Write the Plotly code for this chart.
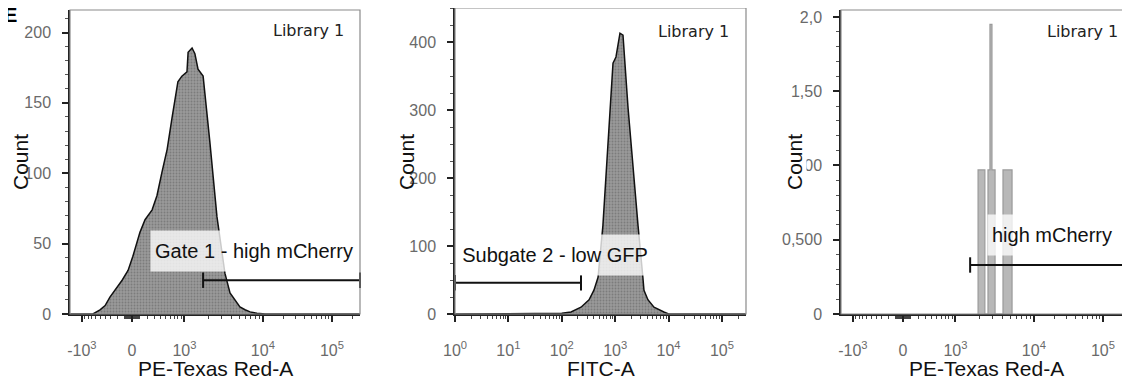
import math
import plotly.graph_objects as go

# ---------------- data ----------------
# Panel 1: PE-Texas Red-A histogram, x in display channels (0-1024) of the biexponential axis
p1_channel = [0, 81, 106, 124, 141, 184, 205, 222, 247, 265, 290, 307, 325, 343, 360, 381, 395,
              413, 417, 431, 441, 452, 470, 484, 494, 519, 547, 565, 600, 618, 636, 660, 689, 1024]
p1_count = [0, 0, 3, 6, 12, 24, 31, 41, 58, 67, 74, 84, 101, 117, 139, 165, 169,
            172, 186, 189, 185, 174, 169, 144, 122, 69, 29, 15, 5, 3, 1.5, 0.5, 0, 0]

# Panel 2: FITC-A histogram (log axis, FITC intensity)
p2_fitc = [1, 50, 100, 149, 229, 324, 400, 478, 589, 910, 1035, 1230, 1400, 1738, 2150, 2680,
           3300, 3460, 4100, 5330, 8170, 10000, 280000]
p2_count = [0, 0, 1, 3, 10, 21, 35, 54, 130, 369, 378, 413, 410, 304, 212, 130,
            54, 35, 21, 10, 3, 0, 0]

# Panel 3: PE-Texas Red-A histogram of the sub-gated cells (bin edges in display channels)
p3_edges = [484, 508, 519, 526, 533, 544, 572, 604]
p3_count = [0.97, 0, 0.97, 1.95, 0.97, 0, 0.97]

# Gates
gate1_x = [470, 1024]
gate1_y = 24
gate2_x = [1, 229]
gate2_y = 46
gate3_x = [456, 1024]
gate3_y = 0.33

gate1_label = "Gate 1 - high mCherry"
gate2_label = "Subgate 2 - low GFP"
gate3_label = "high mCherry"
sample_label = "Library 1"
x_titles = ["PE-Texas Red-A", "FITC-A", "PE-Texas Red-A"]
y_title = "Count"
panel_label = "<b>5E</b>"

# Axis tick labels
bx_ticktext = ["-10<sup>3</sup>", "0", "10<sup>3</sup>", "10<sup>4</sup>", "10<sup>5</sup>"]
bx_tickvalue = [-1000, 0, 1000, 10000, 100000]
log_tickvalue = [1, 10, 100, 1000, 10000, 100000]
log_ticktext = ["10<sup>0</sup>", "10<sup>1</sup>", "10<sup>2</sup>", "10<sup>3</sup>",
                "10<sup>4</sup>", "10<sup>5</sup>"]
y3_tickvalue = [0, 0.5, 1.0, 1.5, 2.0]
y3_ticktext = ["0", "0,500", "1,00", "1,50", "2,0"]


# ---------------- biexponential display scale (value -> channel) ----------------
DECADE_CH = [(3, 404), (4, 681), (5, 925), (6, 1169)]


def to_channel(v):
    if v >= 1000:
        lv = math.log10(v)
        for (a, ca), (b, cb) in zip(DECADE_CH[:-1], DECADE_CH[1:]):
            if lv <= b:
                return ca + (cb - ca) * (lv - a) / (b - a)
        return DECADE_CH[-1][1]
    if v <= -1000:
        return 42 - (math.log10(-v) - 3) * 277
    gap = 185 if v >= 0 else 177
    s = 1 if v >= 0 else -1
    return 219 + s * gap * math.asinh(abs(v) / 400) / math.asinh(2.5)


bx_tickvals = [to_channel(v) for v in bx_tickvalue]
bx_minor_vals = []
for sgn in (1, -1):
    for k in range(1, 10):
        bx_minor_vals.append(to_channel(sgn * k * 10))
        bx_minor_vals.append(to_channel(sgn * k * 100))
for dec in (1000, 10000, 100000):
    for k in range(2, 10):
        if k * dec < 270000:
            bx_minor_vals.append(to_channel(k * dec))
log_minor_vals = [k * 10 ** e for e in range(0, 6) for k in range(2, 10) if k * 10 ** e < 280000]

# ---------------- figure ----------------
W, H = 1130, 390
PAGE_OFF = 8  # default page margin around the plot div


def sx(px):
    return (px - PAGE_OFF) / W


def sy(py):
    return 1 - (py - PAGE_OFF) / H


fig = go.Figure()

HIST_PATTERN = dict(shape=".", bgcolor="#9a9a9a", fgcolor="#5e5e5e", size=3, solidity=0.35)

fig.add_trace(go.Scatter(x=p1_channel, y=p1_count, mode="lines", fill="tozeroy",
                         fillcolor="#8c8c8c", fillpattern=HIST_PATTERN,
                         line=dict(color="#111", width=1.5),
                         xaxis="x", yaxis="y", hoverinfo="skip"))
fig.add_trace(go.Scatter(x=p2_fitc, y=p2_count, mode="lines", fill="tozeroy",
                         fillcolor="#8c8c8c", fillpattern=HIST_PATTERN,
                         line=dict(color="#111", width=1.5),
                         xaxis="x2", yaxis="y2", hoverinfo="skip"))

p3_x, p3_y = [p3_edges[0]], [0]
for i, c in enumerate(p3_count):
    p3_x += [p3_edges[i], p3_edges[i + 1]]
    p3_y += [c, c]
p3_x.append(p3_edges[-1])
p3_y.append(0)
fig.add_trace(go.Scatter(x=p3_x, y=p3_y, mode="lines", fill="tozeroy",
                         fillcolor="#b8b8b8", line=dict(color="#9a9a9a", width=1.2),
                         xaxis="x3", yaxis="y3", hoverinfo="skip"))

for gx, gy, xa, ya in ((gate1_x, gate1_y, "x", "y"), (gate2_x, gate2_y, "x2", "y2"),
                       (gate3_x, gate3_y, "x3", "y3")):
    fig.add_trace(go.Scatter(x=gx, y=[gy, gy], mode="lines+markers", cliponaxis=False,
                             line=dict(color="#111", width=2),
                             marker=dict(symbol="line-ns-open", size=11,
                                         line=dict(color="#111", width=2)),
                             xaxis=xa, yaxis=ya, hoverinfo="skip"))

TICKFONT = dict(family="Arial, Liberation Sans", size=16, color="#6a6a6a")
TITLEFONT = dict(family="Arial, Liberation Sans", size=21, color="#111")


def yaxis(domain, rng, anchor, minor_dtick, **kw):
    d = dict(domain=domain, range=rng, anchor=anchor, showline=True, linecolor="#222",
             linewidth=1.5, ticks="outside", ticklen=6, tickwidth=1.5, tickcolor="#222",
             tickfont=TICKFONT, showgrid=False, zeroline=False, fixedrange=True,
             ticklabelstandoff=8, automargin=False,
             minor=dict(ticks="outside", ticklen=3, tickwidth=1, tickcolor="#555",
                        dtick=minor_dtick, showgrid=False))
    d.update(kw)
    return d


def xaxis(domain, anchor, **kw):
    d = dict(domain=domain, anchor=anchor, showline=True, linecolor="#222", linewidth=1.5,
             ticks="outside", ticklen=6, tickwidth=1.5, tickcolor="#222", tickfont=TICKFONT,
             showgrid=False, zeroline=False, fixedrange=True, ticklabelstandoff=15,
             automargin=False)
    d.update(kw)
    return d


ydom = [sy(314), sy(10)]
ydom2 = [sy(314), sy(8)]
x1dom = [sx(70), sx(360)]
x2dom = [sx(455), sx(746)]
x3dom = [sx(841), sx(1131)]

bx_minor = dict(ticks="outside", ticklen=3, tickwidth=1, tickcolor="#444",
                tickmode="array", tickvals=bx_minor_vals, showgrid=False)

fig.update_layout(
    width=W, height=H, margin=dict(l=0, r=0, t=0, b=0, autoexpand=False),
    paper_bgcolor="white", plot_bgcolor="white", showlegend=False,
    xaxis=xaxis(x1dom, "y", range=[0, 1024], tickmode="array",
                tickvals=bx_tickvals, ticktext=bx_ticktext, minor=bx_minor),
    xaxis2=xaxis(x2dom, "y2", type="log", range=[0, 5.45], tickmode="array",
                 tickvals=log_tickvalue, ticktext=log_ticktext,
                 minor=dict(ticks="outside", ticklen=3, tickwidth=1, tickcolor="#444",
                            tickmode="array", tickvals=log_minor_vals, showgrid=False)),
    xaxis3=xaxis(x3dom, "y3", range=[0, 1024], tickmode="array",
                 tickvals=bx_tickvals, ticktext=bx_ticktext, minor=bx_minor),
    yaxis=yaxis(ydom, [0, 216], "x", 10, dtick=50),
    yaxis2=yaxis(ydom2, [0, 450], "x2", 25, dtick=100),
    yaxis3=yaxis(ydom, [0, 2.047], "x3", 0.1, tickmode="array", tickvals=y3_tickvalue,
                 ticktext=y3_ticktext),
)

# plot frames
for xa, ya in (("x", "y"), ("x2", "y2"), ("x3", "y3")):
    fig.add_shape(type="rect", xref=f"{xa} domain", yref=f"{ya} domain", x0=0, x1=1, y0=0, y1=1,
                  line=dict(color="#8a8a8a", width=1.2), layer="above")

# axis titles
for title, xa in zip(x_titles, ("x", "x2", "x3")):
    fig.add_annotation(text=title, xref=f"{xa} domain", yref="paper", x=0.5, y=sy(368),
                       xanchor="center", yanchor="middle", showarrow=False, font=TITLEFONT)
for px, bg in ((21, "rgba(0,0,0,0)"), (407, "rgba(0,0,0,0)"), (795, "white")):
    fig.add_annotation(text=y_title, xref="paper", yref="paper", x=sx(px), y=sy(162),
                       xanchor="center", yanchor="middle", textangle=-90, showarrow=False,
                       font=TITLEFONT, bgcolor=bg, borderpad=0)

LABELFONT = dict(family="Arial, Liberation Sans", size=20, color="#111")
for text, xa, ya, xd, yd, w in ((gate1_label, "x", "y", 0.634, 0.207, 206),
                                (gate2_label, "x2", "y2", 0.344, 0.193, 190),
                                (gate3_label, "x3", "y3", 0.727, 0.26, 128)):
    fig.add_annotation(text=text, xref=f"{xa} domain", yref=f"{ya} domain", x=xd, y=yd,
                       xanchor="center", yanchor="middle", showarrow=False, font=LABELFONT,
                       bgcolor="rgba(255,255,255,0.78)", width=w, height=40, borderpad=0)

for xa, ya, xd, yd in (("x", "y", 0.824, 0.931), ("x2", "y2", 0.818, 0.922),
                       ("x3", "y3", 0.834, 0.928)):
    fig.add_annotation(text=sample_label, xref=f"{xa} domain", yref=f"{ya} domain", x=xd, y=yd,
                       xanchor="center", yanchor="middle", showarrow=False,
                       font=dict(family="DejaVu Sans", size=16, color="#222"))

fig.add_annotation(text=panel_label, xref="paper", yref="paper", x=sx(19), y=sy(15),
                   xanchor="right", yanchor="middle", showarrow=False,
                   font=dict(family="Arial, Liberation Sans", size=20, color="#000"))

fig.write_html("out.html")
